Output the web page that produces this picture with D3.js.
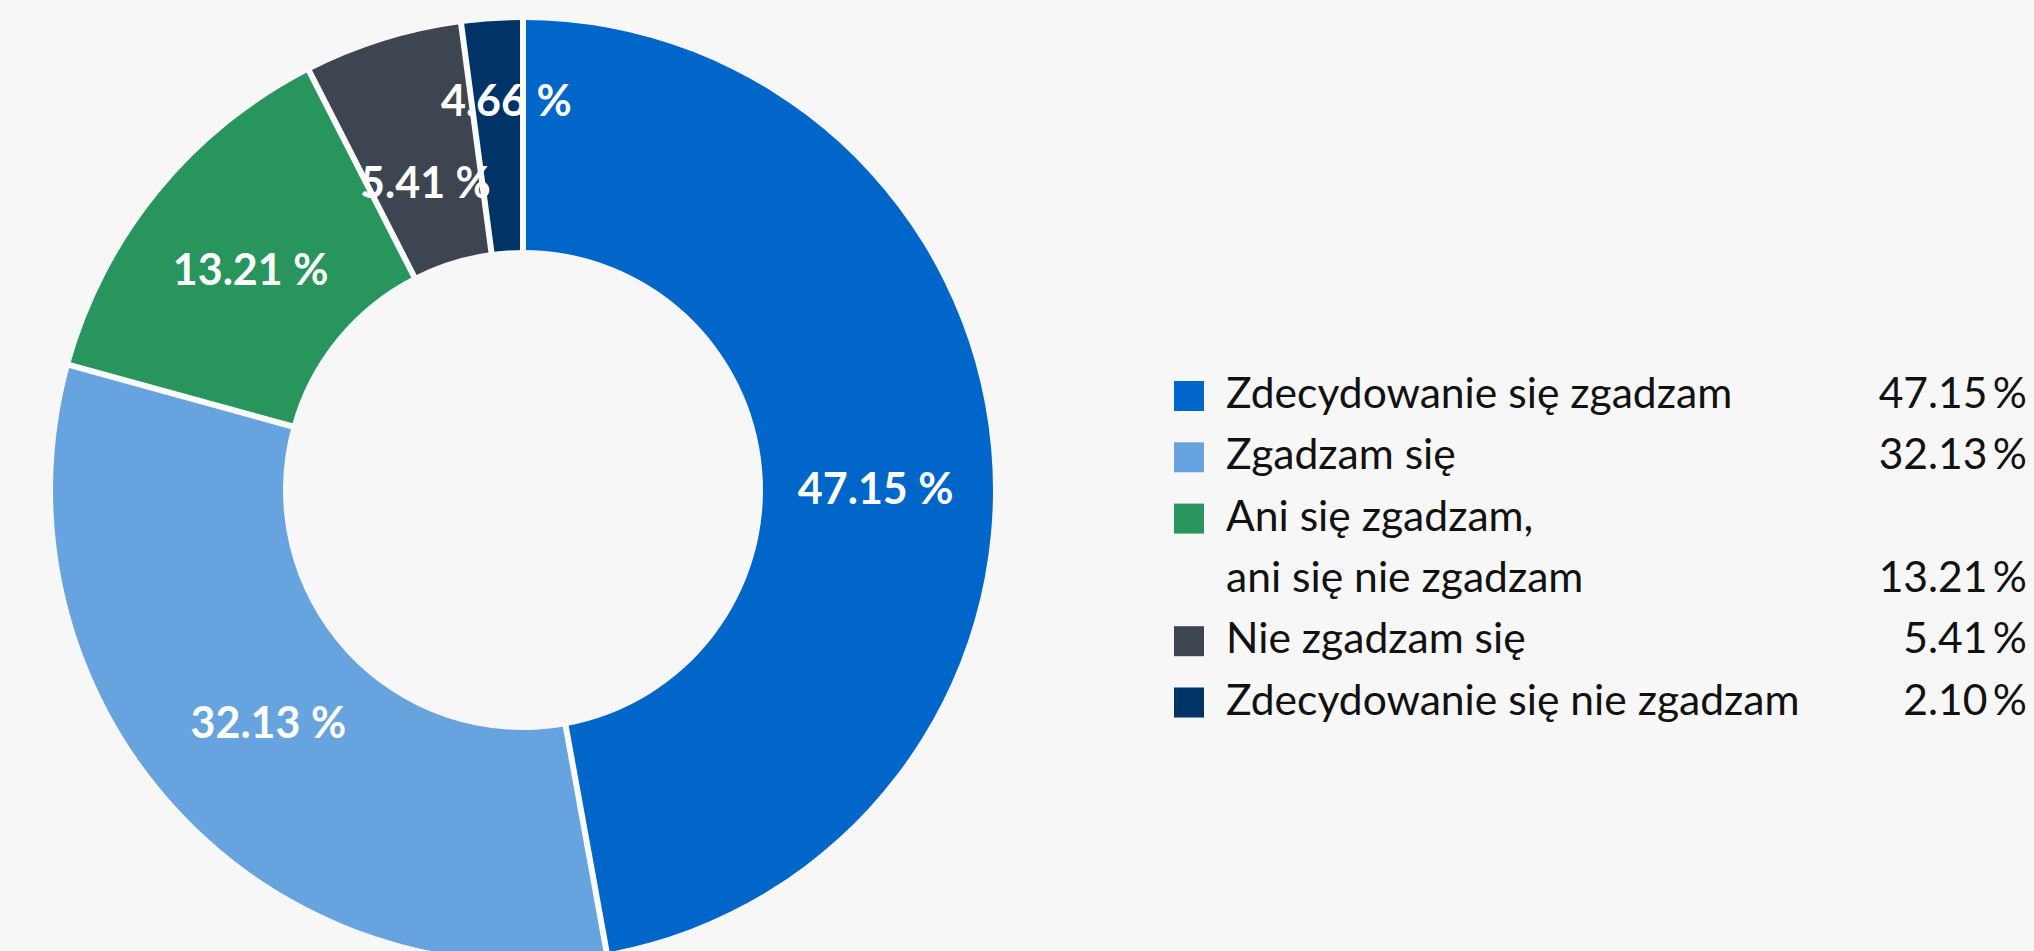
<!DOCTYPE html>
<html>
<head>
<meta charset="utf-8">
<script src="https://cdn.jsdelivr.net/npm/d3@7"></script>
<style>
  html, body { margin: 0; padding: 0; background: #f7f7f7; }
  svg { display: block; font-family: Lato, "Noto Sans", sans-serif; }
</style>
</head>
<body>
<div id="chart_area"></div>
<script>
// data
var categories = ["Zdecydowanie się zgadzam", "Zgadzam się", "Ani się zgadzam,\nani się nie zgadzam", "Nie zgadzam się", "Zdecydowanie się nie zgadzam"];
var values = [47.15, 32.13, 13.21, 5.41, 2.10];
var sliceLabels = ["47.15 %", "32.13 %", "13.21 %", "5.41 %", "4.66 %"];
var colors = ["#0066c9", "#67a3de", "#28965c", "#3d4650", "#003366"];

// small nudges of the slice labels away from the arc centroid
var labelShift = [[9, 29], [0, 0], [-5, -2], [5, 22], [6, -45]];

var width = 2034, height = 951;
var cx = 523, cy = 490;
var outerR = 470, innerR = 240, labelR = 345;

var svg = d3.select("#chart_area").append("svg")
  .attr("width", width)
  .attr("height", height);

var chart = svg.append("g")
  .attr("transform", "translate(" + cx + "," + cy + ")");

var pie = d3.pie().sort(null).value(function(d) { return d; });
var arcs = pie(values);

var arc = d3.arc().innerRadius(innerR).outerRadius(outerR);
var labelArc = d3.arc().innerRadius(labelR).outerRadius(labelR);

// slices
chart.selectAll("path.slice")
  .data(arcs)
  .enter().append("path")
  .attr("class", "slice")
  .attr("d", arc)
  .attr("fill", function(d, i) { return colors[i]; });

// slice labels
chart.selectAll("text.slabel")
  .data(arcs)
  .enter().append("text")
  .attr("class", "slabel")
  .attr("transform", function(d, i) {
    var c = labelArc.centroid(d);
    return "translate(" + (c[0] + labelShift[i][0]) + "," + (c[1] + labelShift[i][1]) + ")";
  })
  .attr("text-anchor", "middle")
  .attr("dy", "0.36em")
  .style("font-size", "43px")
  .style("font-weight", "700")
  .style("fill", "#ffffff")
  .text(function(d, i) { return sliceLabels[i]; });

// separators between slices, drawn on top
chart.selectAll("line.sep")
  .data(arcs)
  .enter().append("line")
  .attr("class", "sep")
  .attr("x1", function(d) { return Math.sin(d.startAngle) * (innerR - 2); })
  .attr("y1", function(d) { return -Math.cos(d.startAngle) * (innerR - 2); })
  .attr("x2", function(d) { return Math.sin(d.startAngle) * (outerR + 2); })
  .attr("y2", function(d) { return -Math.cos(d.startAngle) * (outerR + 2); })
  .attr("stroke", "#fbfbfb")
  .attr("stroke-width", 6);

// legend
var legendX = 1174, legendTop = 381, rowH = 61.3, boxSize = 30, valueRight = 2027;
var legend = svg.append("g").attr("class", "legend");

var row = 0;
categories.forEach(function(cat, i) {
  var lines = cat.split("\n");
  var y0 = legendTop + row * rowH;
  legend.append("rect")
    .attr("x", legendX)
    .attr("y", y0)
    .attr("width", boxSize)
    .attr("height", boxSize)
    .attr("fill", colors[i]);
  lines.forEach(function(line, j) {
    legend.append("text")
      .attr("x", legendX + 52)
      .attr("y", y0 + j * rowH + 27)
      .style("font-size", "42.6px")
      .style("fill", "#111111")
      .text(line);
  });
  legend.append("text")
    .attr("x", valueRight)
    .attr("y", y0 + (lines.length - 1) * rowH + 27)
    .attr("text-anchor", "end")
    .style("font-size", "42.6px")
    .style("fill", "#111111")
    .text(values[i].toFixed(2) + "\u2009%");
  row += lines.length;
});
</script>
</body>
</html>
